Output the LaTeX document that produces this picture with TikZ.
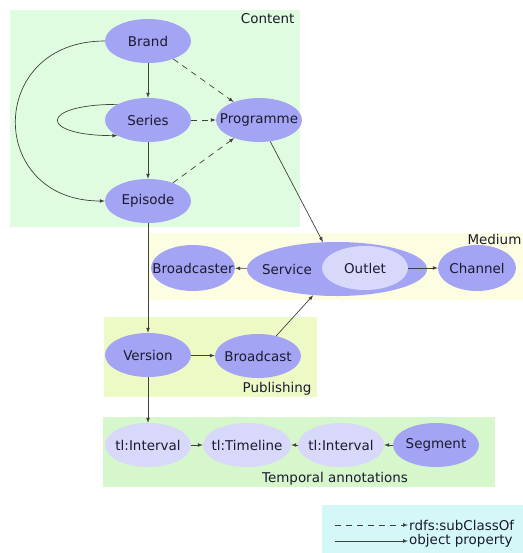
\documentclass[tikz,border=0pt]{standalone}
\usepackage{fontspec}
\setmainfont{DejaVu Sans}
\usepackage{tikz}
\usetikzlibrary{shapes.geometric}
\definecolor{contentbg}{HTML}{E0FCE0}
\definecolor{mediumbg}{HTML}{FDFDE2}
\definecolor{pubbg}{HTML}{EEFAC6}
\definecolor{tempbg}{HTML}{D6F6CC}
\definecolor{legendbg}{HTML}{D4F8F8}
\definecolor{clsfill}{HTML}{A4A4F4}
\definecolor{tlfill}{HTML}{D8D8FA}
\definecolor{edgecol}{HTML}{404040}
\definecolor{txtcol}{HTML}{1A1A2E}
\newcommand{\inlbl}[1]{\makebox[0pt]{#1}}

\begin{document}
\begin{tikzpicture}[font=\fontsize{13.4}{16}\selectfont,text=txtcol,
cls/.style={ellipse,fill=clsfill,inner sep=0pt,minimum width=3.01cm,minimum height=1.54cm},
tlcls/.style={cls,fill=tlfill},
objprop/.style={draw=edgecol,line width=0.7pt,-latex},
subprop/.style={objprop,dash pattern=on 6pt off 5pt}]
\useasboundingbox (0,0) rectangle (18.305,-19.355);
%groups
\fill[contentbg] (0.35,-0.35) rectangle (10.5,-7.945);
\fill[mediumbg] (5.215,-8.155) rectangle (18.305,-10.5);
\fill[pubbg] (3.64,-11.095) rectangle (11.095,-13.895);
\fill[tempbg] (3.605,-14.595) rectangle (17.325,-17.045);
\fill[legendbg] (11.27,-17.675) rectangle (18.305,-19.355);
\path (10.43,-0.665) node(contentlbl)[anchor=east]{Content}
(18.29,-8.365) node(mediumlbl)[anchor=east,inner sep=1pt]{Medium}
(11.025,-13.615) node(publbl)[anchor=east]{Publishing}
(11.725,-16.765) node(templbl){Temporal annotations};
%classes
\path (5.18,-1.435) node(brand)[cls]{\inlbl{Brand}}
(5.18,-4.2) node(series)[cls]{\inlbl{Series}}
(5.18,-7.035) node(episode)[cls]{\inlbl{Episode}}
(9.065,-4.2) node(programme)[cls]{\inlbl{Programme}}
(6.755,-9.38) node(broadcaster)[cls,minimum width=2.94cm,minimum height=1.61cm]{\inlbl{Broadcaster}}
(11.795,-9.415) node(service)[cls,minimum width=6.3cm,minimum height=1.89cm,label={[xshift=-1.75cm]center:Service}]{}
(12.775,-9.38) node(outlet)[cls,fill=tlfill]{\inlbl{Outlet}}
(16.695,-9.38) node(channel)[cls,minimum width=2.73cm,minimum height=1.61cm]{\inlbl{Channel}}
(5.18,-12.425) node(version)[cls]{\inlbl{Version}}
(9.03,-12.46) node(broadcast)[cls]{\inlbl{Broadcast}}
(5.18,-15.575) node(intervala)[tlcls]{\inlbl{tl:Interval}}
(8.645,-15.575) node(timeline)[tlcls,minimum width=3.08cm]{\inlbl{tl:Timeline}}
(11.935,-15.575) node(intervalb)[tlcls]{\inlbl{tl:Interval}}
(15.26,-15.575) node(segment)[cls]{\inlbl{Segment}};
\draw[objprop](brand)--(series);
\draw[objprop](series)--(episode);
\draw[objprop](brand.west) to[out=180,in=180,looseness=1.9] (episode.west);
\draw[objprop](series.153) to[out=180,in=180,looseness=6.5] (series.207);
\draw[subprop](brand)--(programme);
\draw[subprop](series)--(programme);
\draw[subprop](episode)--(programme);
\draw[objprop](programme)--(service);
\draw[objprop](service)--(broadcaster);
\draw[objprop](outlet)--(channel);
\draw[objprop](broadcast)--(service);
\draw[objprop](episode)--(version);
\draw[objprop](version)--(broadcast);
\draw[objprop](version)--(intervala);
\draw[objprop](intervala)--(timeline);
\draw[objprop](intervalb)--(timeline);
\draw[objprop](segment)--(intervalb);
%legend
\path (14.28,-18.375) node(sublbl)[anchor=west,inner sep=1pt]{rdfs:subClassOf}
(14.28,-18.935) node(objlbl)[anchor=west,inner sep=1pt]{object property};
\coordinate (subend) at (11.725,-18.375);
\coordinate (objend) at (11.725,-18.935);
\draw[subprop](subend)--(sublbl);
\draw[objprop](objend)--(objlbl);
\end{tikzpicture}
\end{document}
